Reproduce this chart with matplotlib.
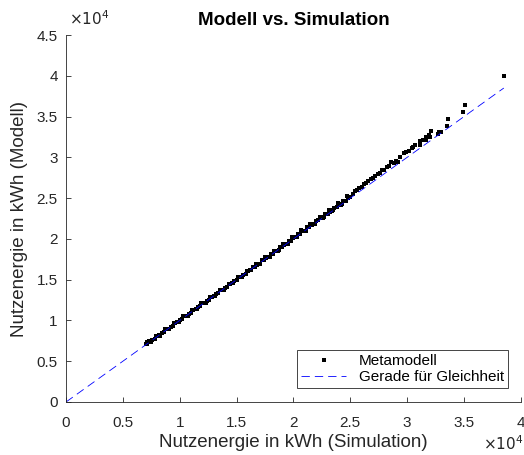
import matplotlib
matplotlib.use("Agg")
import matplotlib.pyplot as plt
from matplotlib.ticker import FuncFormatter

# dense part of the cloud (kWh)
sim_dense = [7000, 7150, 7300, 7450, 7600, 7800, 8000, 8200, 8400, 8600, 8800, 9000,
             9200, 9400, 9600, 9800, 10000, 10200, 10400, 10600, 10800, 11000, 11200,
             11400, 11600, 11800, 12000, 12200, 12400, 12600, 12800, 13000, 13200, 13400,
             13600, 13800, 14000, 14200, 14400, 14600, 14800, 15000, 15200, 15400, 15600,
             15800, 16000, 16200, 16400, 16600, 16800, 17000, 17200, 17400, 17600, 17800,
             18000, 18200, 18400, 18600, 18800, 19000, 19200, 19400, 19600, 19800, 20000,
             20200, 20400, 20600, 20800, 21000, 21200, 21400, 21600, 21800, 22000, 22200,
             22400, 22600, 22800, 23000, 23200, 23400, 23600, 23800, 24000, 24200, 24400,
             24600, 24800, 25000]
mod_dense = [7060, 7090, 7420, 7410, 7620, 7700, 8080, 8200, 8460, 8540, 8920, 8960,
             9220, 9300, 9680, 9800, 10060, 10140, 10520, 10560, 10820, 10900, 11280,
             11400, 11660, 11740, 12120, 12160, 12420, 12500, 12880, 13000, 13260, 13340,
             13720, 13760, 14020, 14100, 14480, 14600, 14860, 14940, 15320, 15360, 15620,
             15700, 16100, 16160, 16560, 16600, 16860, 16940, 17380, 17440, 17700, 17760,
             18160, 18200, 18460, 18540, 18980, 19040, 19300, 19360, 19760, 19800, 20150,
             20200, 20650, 20660, 21000, 20980, 21500, 21500, 21750, 21800, 22250, 22260,
             22600, 22580, 23100, 23100, 23350, 23400, 23850, 23860, 24200, 24180, 24700,
             24700, 25050, 25100]

# second layer of the dense band, slightly spread around the line
sim_band = [7100, 7500, 7900, 8300, 8700, 9100, 9500, 9900, 10300, 10700, 11100, 11500,
            11900, 12300, 12700, 13100, 13500, 13900, 14300, 14700, 15100, 15500, 15900,
            16300, 16700, 17100, 17500, 17900, 18300, 18700, 19100, 19500, 19900, 20300,
            20700, 21100, 21500, 21900, 22300, 22700, 23100, 23500, 23900, 24300, 24700]
mod_band = [7300, 7350, 8100, 8150, 8900, 8950, 9700, 9750, 10500, 10550, 11300, 11350,
            12100, 12150, 12900, 12950, 13700, 13750, 14500, 14550, 15320, 15380, 16120,
            16180, 16920, 16980, 17750, 17800, 18550, 18600, 19380, 19420, 20200, 20250,
            21050, 21000, 21850, 21850, 22700, 22650, 23550, 23500, 24350, 24300, 25200]

# upper, more scattered part
sim_upper = [25200, 25400, 25600, 25800, 26000, 26200, 26400, 26600, 26800, 27000, 27200,
             27400, 27600, 27800, 28000, 28200, 28400, 28600, 28800, 29000, 29200, 29400,
             29700, 29900, 30200, 30400, 30500, 30700, 31100, 31100, 31400, 31700, 31700,
             31900, 32000, 32100, 32700, 32800, 33000, 33500, 33600, 34900, 35100, 38500]
mod_upper = [25550, 25900, 25950, 26300, 26350, 26750, 26800, 27150, 27300, 27500, 27700,
             27950, 28100, 28450, 28500, 28800, 28950, 29400, 29300, 29500, 29400, 30000,
             30500, 30700, 30800, 31200, 31300, 31500, 31500, 32000, 32100, 32500, 32100,
             32800, 32500, 33200, 32900, 33100, 33100, 33900, 34700, 35600, 36400, 40000]

x_ticks = [0, 5000, 10000, 15000, 20000, 25000, 30000, 35000, 40000]
y_ticks = [0, 5000, 10000, 15000, 20000, 25000, 30000, 35000, 40000, 45000]

sim = sim_dense + sim_band + sim_upper
mod = mod_dense + mod_band + mod_upper

plt.rcParams["font.family"] = ["Liberation Sans", "DejaVu Sans"]
dark = "#262626"

fig = plt.figure(figsize=(5.24, 4.55), dpi=100)
ax = fig.add_axes([0.126, 0.1165, 0.868, 0.8065])

ax.plot(sim, mod, "s", color="black", markersize=3.5, markeredgewidth=0,
        label="Metamodell")
lim = max(sim)
ax.plot([0, lim], [0, lim], color="#0000ff", linewidth=0.6, dashes=(10, 6),
        label="Gerade für Gleichheit")

ax.set_xlim(0, 40000)
ax.set_ylim(0, 45000)
ax.set_xticks(x_ticks)
ax.set_yticks(y_ticks)
fmt = FuncFormatter(lambda v, p: f"{v / 1e4:g}")
ax.xaxis.set_major_formatter(fmt)
ax.yaxis.set_major_formatter(fmt)

for side in ("top", "right"):
    ax.spines[side].set_visible(False)
for side in ("left", "bottom"):
    ax.spines[side].set_color(dark)
    ax.spines[side].set_linewidth(0.6)
ax.tick_params(direction="in", length=3.5, width=0.6, color=dark,
               labelcolor=dark, labelsize=11)
ax.tick_params(axis="x", pad=10)
ax.tick_params(axis="y", pad=6)

ax.set_title("Modell vs. Simulation", fontsize=13.5, fontweight="bold", color="black", pad=7)
ax.set_xlabel("Nutzenergie in kWh (Simulation)", fontsize=13.5, color=dark, labelpad=3)
ax.set_ylabel("Nutzenergie in kWh (Modell)", fontsize=13.5, color=dark, labelpad=6)

fig.text(0.132, 0.958, r"$\times10^4$", fontsize=11, color=dark, ha="left", va="center",
         math_fontfamily="dejavusans")
fig.text(0.998, 0.004, r"$\times10^4$", fontsize=11, color=dark, ha="right", va="bottom",
         math_fontfamily="dejavusans")

leg = ax.legend(loc="lower right", bbox_to_anchor=(0.971, 0.038), fontsize=11,
                fancybox=False, framealpha=1, edgecolor=dark, borderpad=0.25,
                handlelength=3.0, labelspacing=0.15, borderaxespad=0)
leg.get_frame().set_linewidth(0.6)

fig.savefig("out.png", dpi=100)
